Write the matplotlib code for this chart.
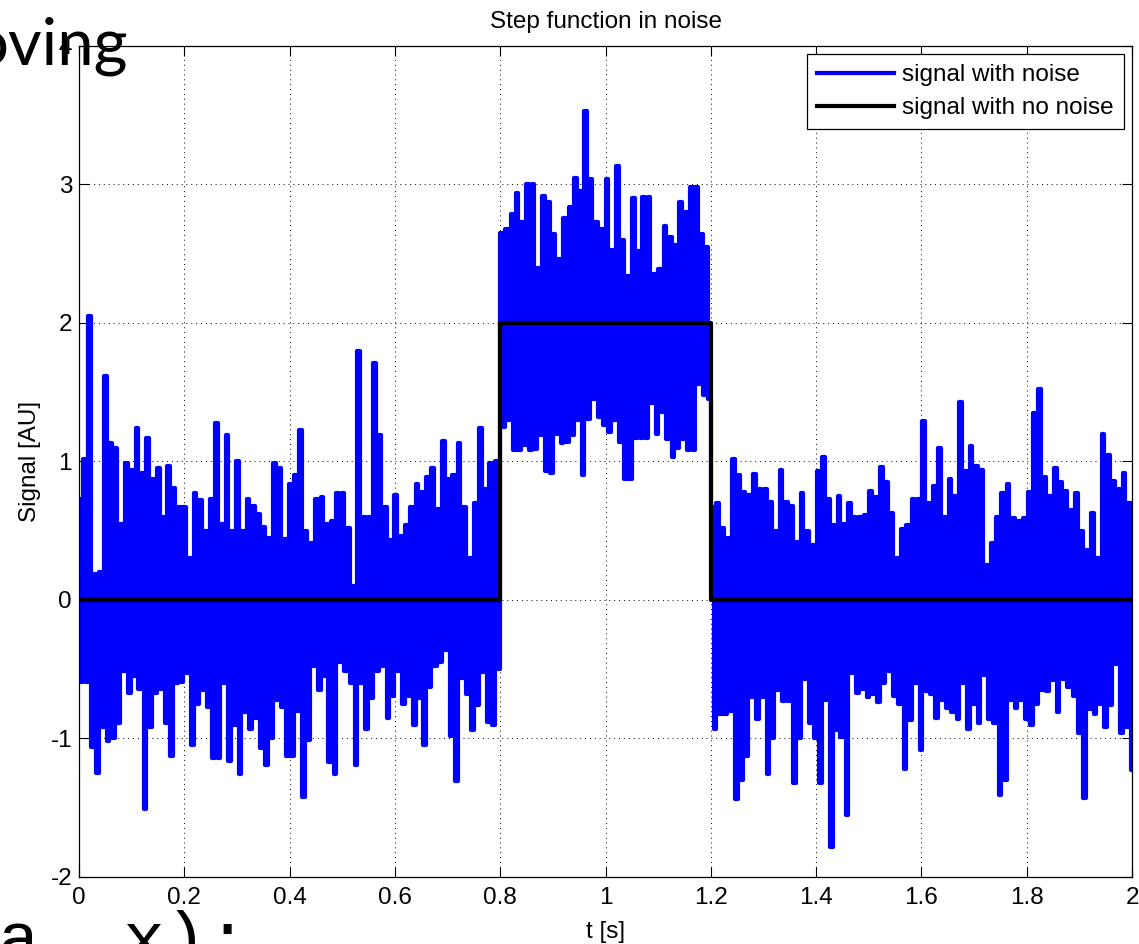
import matplotlib.pyplot as plt
import numpy as np

# noisy signal: upper and lower swing for each 10 ms slot (0 .. 2 s)
noise_hi = [
    0.73, 1.02, 2.05, 0.19, 0.20, 1.62, 1.13, 1.10, 0.55, 0.99,
    0.94, 1.24, 0.92, 1.17, 0.87, 0.95, 0.60, 0.97, 0.81, 0.67,
    0.67, 0.30, 0.77, 0.72, 0.50, 0.73, 1.28, 0.55, 1.19, 0.50,
    1.00, 0.50, 0.73, 0.68, 0.62, 0.53, 0.45, 0.99, 0.95, 0.44,
    0.84, 0.90, 1.23, 0.50, 0.41, 0.73, 0.74, 0.55, 0.57, 0.77,
    0.77, 0.52, 0.10, 1.80, 0.60, 0.60, 1.71, 1.19, 0.67, 0.43,
    0.76, 0.46, 0.54, 0.67, 0.84, 0.78, 0.89, 0.95, 0.66, 1.15,
    0.87, 0.90, 1.13, 0.67, 0.30, 0.70, 1.24, 0.80, 0.99, 1.00,
    2.65, 2.68, 2.79, 2.94, 2.73, 3.00, 3.00, 2.40, 2.92, 2.87,
    2.64, 2.46, 2.76, 2.84, 3.05, 2.95, 3.53, 3.04, 2.73, 2.68,
    3.04, 2.53, 3.13, 2.60, 2.34, 2.90, 2.52, 2.91, 2.91, 2.35,
    2.39, 2.70, 2.62, 2.56, 2.87, 2.80, 2.98, 2.98, 2.64, 2.55,
    0.67, 0.70, 0.52, 0.45, 1.02, 0.90, 0.78, 0.76, 0.91, 0.80,
    0.80, 0.71, 0.50, 0.94, 0.71, 0.68, 0.42, 0.77, 0.50, 0.40,
    0.93, 1.03, 0.73, 0.54, 0.75, 0.55, 0.70, 0.60, 0.60, 0.61,
    0.79, 0.74, 0.96, 0.85, 0.63, 0.30, 0.51, 0.54, 0.73, 0.73,
    1.29, 0.70, 0.82, 1.10, 0.60, 0.87, 0.75, 1.43, 0.93, 1.11,
    0.97, 0.94, 0.25, 0.41, 0.60, 0.77, 0.84, 0.59, 0.57, 0.59,
    0.78, 1.35, 1.52, 0.89, 0.75, 0.95, 0.85, 0.79, 0.65, 0.77,
    0.50, 0.36, 0.63, 0.30, 1.20, 1.05, 0.86, 0.80, 0.92, 0.70,
]
noise_lo = [
    -0.59, -0.59, -1.06, -1.25, -0.92, -1.02, -1.00, -0.89, -0.51, -0.67,
    -0.55, -0.64, -1.51, -0.92, -0.67, -0.64, -0.89, -1.13, -0.60, -0.59,
    -0.53, -1.05, -0.75, -0.65, -0.77, -1.14, -1.14, -0.60, -1.16, -0.90,
    -1.26, -0.81, -0.93, -0.85, -1.07, -1.19, -1.00, -0.72, -0.77, -1.13,
    -1.13, -0.80, -1.42, -1.01, -0.48, -0.65, -0.55, -1.17, -1.26, -0.45,
    -0.51, -0.60, -1.19, -0.60, -0.93, -0.71, -0.51, -0.48, -0.85, -0.69,
    -0.51, -0.75, -0.69, -0.90, -0.71, -1.05, -0.63, -0.48, -0.45, -0.36,
    -0.98, -1.31, -0.56, -0.68, -0.94, -0.76, -0.52, -0.88, -0.90, -0.50,
    1.25, 1.30, 1.08, 1.08, 1.12, 1.08, 1.09, 1.19, 0.93, 0.92,
    1.20, 1.13, 1.14, 1.19, 1.30, 0.90, 1.31, 1.45, 1.32, 1.26,
    1.21, 1.30, 1.14, 0.87, 0.87, 1.17, 1.17, 1.17, 1.42, 1.20,
    1.36, 1.16, 1.03, 1.10, 1.16, 1.08, 1.08, 1.56, 1.48, 1.45,
    -0.93, -0.82, -0.82, -0.80, -1.44, -1.30, -1.13, -0.70, -0.86, -0.70,
    -1.26, -1.00, -0.65, -0.73, -0.73, -1.32, -1.00, -0.57, -0.89, -1.00,
    -1.32, -0.72, -1.78, -0.94, -0.99, -1.55, -0.53, -0.67, -0.64, -0.70,
    -0.68, -0.74, -0.60, -0.51, -0.69, -0.75, -1.22, -0.87, -0.60, -1.08,
    -0.66, -0.68, -0.85, -0.72, -0.78, -0.81, -0.86, -0.60, -0.93, -0.75,
    -0.89, -0.54, -0.86, -0.89, -1.41, -1.30, -0.72, -0.78, -0.72, -0.86,
    -0.90, -0.75, -0.65, -0.66, -0.58, -0.81, -0.57, -0.63, -0.69, -0.96,
    -1.43, -0.79, -0.82, -0.75, -0.92, -0.76, -0.46, -0.96, -0.92, -1.23,
]

# clean step signal
step_t = [0, 0.8, 1.2, 2.0]
step_level = [0, 2, 0, 0]

xtick_vals = [0, 0.2, 0.4, 0.6, 0.8, 1, 1.2, 1.4, 1.6, 1.8, 2]
xtick_text = ['0', '0.2', '0.4', '0.6', '0.8', '1', '1.2', '1.4', '1.6', '1.8', '2']
ytick_vals = [-2, -1, 0, 1, 2, 3, 4]

plt.rcParams['font.family'] = ['Liberation Sans', 'DejaVu Sans']
plt.rcParams['axes.unicode_minus'] = False
fs = 17.5

signal = np.column_stack([noise_hi, noise_lo]).ravel()
t = np.linspace(0, 2, len(signal))

fig = plt.figure(figsize=(11.39, 9.44), dpi=100)
ax = fig.add_axes([0.0694, 0.0710, 0.9245, 0.8803])

ax.plot(t, signal, color='blue', linewidth=3, drawstyle='steps-mid',
        label='signal with noise')
ax.plot(step_t, step_level, color='black', linewidth=3, drawstyle='steps-post',
        label='signal with no noise')

ax.set_xlim(0, 2)
ax.set_ylim(-2, 4)
ax.set_xticks(xtick_vals)
ax.set_xticklabels(xtick_text)
ax.set_yticks(ytick_vals)
ax.tick_params(direction='in', length=7, width=0.8, top=True, right=True,
               labelsize=fs, pad=7)
ax.tick_params(axis='y', pad=5)
for s in ax.spines.values():
    s.set_linewidth(0.9)

ax.set_axisbelow(True)
ax.grid(True, color='black', linewidth=0.7, linestyle=(0, (1, 4)))

ax.set_title('Step function in noise', fontsize=fs, pad=13)
ax.set_xlabel('t [s]', fontsize=fs, labelpad=9)
ax.set_ylabel('Signal [AU]', fontsize=fs, labelpad=7)

leg = ax.legend(loc='upper right', fontsize=fs, handlelength=3.15,
                handletextpad=0.35, labelspacing=0.45, borderpad=0.4,
                borderaxespad=0.35, fancybox=False, framealpha=1)
leg.get_frame().set_edgecolor('black')
leg.get_frame().set_linewidth(0.9)

# slide text around the figure
fig.text(0.1125, 0.9322, 'oving', fontsize=47, family='Lato',
         ha='right', va='baseline', color='black')
fig.text(-0.002, -0.017, 'a, x);', fontsize=50, family='Liberation Mono',
         ha='left', va='baseline', color='black')

fig.savefig('out.png', dpi=100)
